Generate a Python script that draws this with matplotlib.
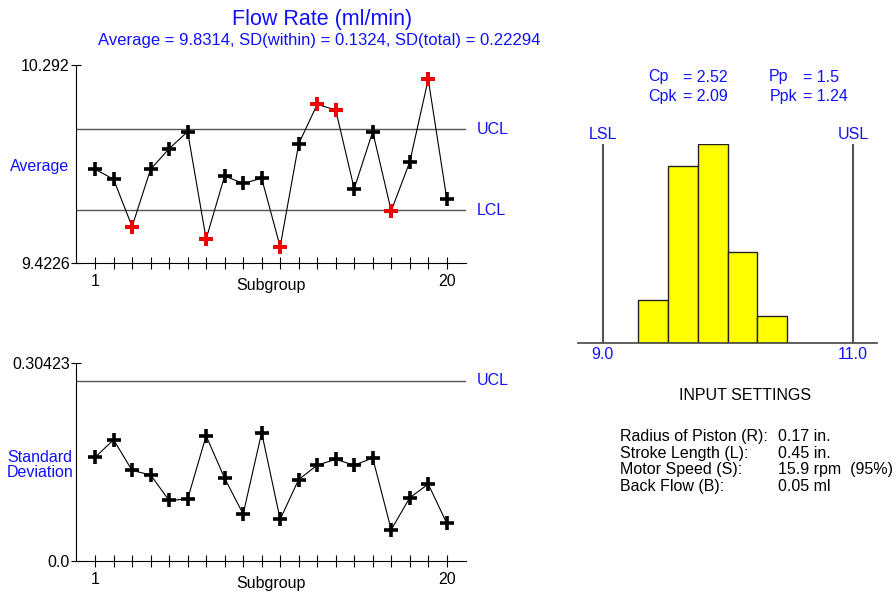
import numpy as np
import matplotlib
matplotlib.use('Agg')
import matplotlib.pyplot as plt
from matplotlib import font_manager

# chart values
subgroups = np.arange(1, 21)
averages = [9.833, 9.789, 9.581, 9.833, 9.923, 9.998, 9.527, 9.803, 9.771, 9.793,
            9.493, 9.944, 10.118, 10.093, 9.748, 9.998, 9.650, 9.865, 10.228, 9.704]
std_devs = [0.159, 0.186, 0.139, 0.132, 0.093, 0.095, 0.192, 0.127, 0.072, 0.197,
            0.064, 0.125, 0.147, 0.156, 0.147, 0.158, 0.048, 0.097, 0.118, 0.058]
grand_avg = 9.8314
sd_within = 0.1324
sd_total = 0.22294
n_per_group = 5
avg_ucl = grand_avg + 3 * sd_within / np.sqrt(n_per_group)
avg_lcl = grand_avg - 3 * sd_within / np.sqrt(n_per_group)
avg_range = (9.4226, 10.292)
sd_ucl = 0.27657
sd_range = (0.0, 0.30423)

hist_edges = [9.285, 9.523, 9.761, 9.999, 10.237, 10.475]
hist_counts = [8, 33, 37, 17, 5]
lsl, usl = 9.0, 11.0
cp, cpk, pp, ppk = '2.52', '2.09', '1.5', '1.24'

settings_names = ['Radius of Piston (R):', 'Stroke Length (L):', 'Motor Speed (S):', 'Back Flow (B):']
settings_values = ['0.17 in.', '0.45 in.', '15.9 rpm  (95%)', '0.05 ml']

W, H = 896, 592
BLUE = '#1010ff'

plt.rcParams['font.family'] = ['Liberation Sans', 'DejaVu Sans']
installed = {f.name for f in font_manager.fontManager.ttflist}
if 'Liberation Sans Narrow' in installed:
    LABEL_FONT = ['Liberation Sans Narrow', 'Liberation Sans']
    FS = 13
    FS_SET = 13.5
else:
    LABEL_FONT = ['Liberation Sans', 'DejaVu Sans']
    FS = 11.5
    FS_SET = 11.5


def fx(px):
    return px / W


def fy(py):
    return 1 - py / H


def label(x, y, s, **kw):
    kw.setdefault('fontsize', FS)
    kw.setdefault('family', LABEL_FONT)
    fig.text(fx(x), fy(y), s, **kw)


def control_chart(ax, values, ylim, limits, ylabels):
    ax.set_xlim(-0.03, 21.04)
    ax.set_ylim(*ylim)
    for name, val in limits:
        ax.axhline(val, color='#555555', lw=1.0, zorder=1)
        ax.text(21.6, val, name, color=BLUE, fontsize=FS, family=LABEL_FONT,
                va='center', ha='left')
    ax.plot(subgroups, values, color='black', lw=0.8, marker='+', ms=10, mew=2.6, zorder=3)
    out = [(s, v) for s, v in zip(subgroups, values)
           if any((nm == 'UCL' and v > lv) or (nm == 'LCL' and v < lv) for nm, lv in limits)]
    if out:
        xs, ys = zip(*out)
        ax.plot(xs, ys, ls='none', marker='+', ms=10, mew=2.6, color='red', zorder=4)
    for side in ['top', 'right']:
        ax.spines[side].set_visible(False)
    ax.set_xticks(subgroups)
    ax.set_xticklabels(['1'] + [''] * 18 + ['20'], fontsize=FS, family=LABEL_FONT)
    ax.tick_params(axis='x', direction='inout', length=8, width=0.8, pad=4)
    ax.set_yticks(list(ylim))
    ax.set_yticklabels(ylabels, fontsize=FS, family=LABEL_FONT)
    ax.tick_params(axis='y', direction='inout', length=7, width=0.8, pad=1)
    ax.text(10.5, -0.115, 'Subgroup', transform=ax.get_xaxis_transform(),
            ha='center', va='center', fontsize=FS, family=LABEL_FONT)


fig = plt.figure(figsize=(W / 100, H / 100), dpi=100)

# x-bar chart
ax1 = fig.add_axes([fx(76), fy(262.7), fx(466 - 76), (262.7 - 64.7) / H])
control_chart(ax1, averages, avg_range, [('UCL', avg_ucl), ('LCL', avg_lcl)],
              ['9.4226', '10.292'])
label(40, 167, 'Average', color=BLUE, ha='center', va='center')

# standard deviation chart
ax2 = fig.add_axes([fx(76), fy(561), fx(466 - 76), (561 - 362.7) / H])
control_chart(ax2, std_devs, sd_range, [('UCL', sd_ucl)], ['0.0', '0.30423'])
label(40, 465, 'Standard\nDeviation', color=BLUE, ha='center', va='center', linespacing=1.0)

# titles
fig.text(fx(322), fy(19), 'Flow Rate (ml/min)', color=BLUE, fontsize=15.5,
         ha='center', va='center')
fig.text(fx(319), fy(40),
         f'Average = {grand_avg}, SD(within) = {sd_within}, SD(total) = {sd_total}',
         color=BLUE, fontsize=12, ha='center', va='center')

# histogram
ax3 = fig.add_axes([fx(578), fy(342.7), fx(876.7 - 578), (342.7 - 144.3) / H])
ax3.set_xlim(8.803, 11.19)
ax3.set_ylim(0, max(hist_counts))
ax3.bar(hist_edges[:-1], hist_counts, width=np.diff(hist_edges), align='edge',
        color='#ffff00', edgecolor='#222222', lw=1.0, zorder=2)
ax3.vlines([lsl, usl], 0, max(hist_counts), color='#555555', lw=1.5, zorder=1)
for side in ['top', 'right', 'left']:
    ax3.spines[side].set_visible(False)
ax3.spines['bottom'].set_color('#444444')
ax3.spines['bottom'].set_linewidth(1.2)
ax3.set_yticks([])
ax3.set_xticks([lsl, usl])
ax3.set_xticklabels([f'{lsl:.1f}', f'{usl:.1f}'], color=BLUE, fontsize=FS, family=LABEL_FONT)
ax3.tick_params(axis='x', length=0, pad=3)
ax3.text(lsl, max(hist_counts) + 0.4, 'LSL', color=BLUE, fontsize=FS, family=LABEL_FONT,
         ha='center', va='bottom')
ax3.text(usl, max(hist_counts) + 0.4, 'USL', color=BLUE, fontsize=FS, family=LABEL_FONT,
         ha='center', va='bottom')

label(648, 77, 'Cp', color=BLUE, va='center')
label(648, 96.5, 'Cpk', color=BLUE, va='center')
label(683, 77, f'= {cp}', color=BLUE, va='center')
label(683, 96.5, f'= {cpk}', color=BLUE, va='center')
label(769, 77, 'Pp', color=BLUE, va='center')
label(770, 96.5, 'Ppk', color=BLUE, va='center')
label(803, 77, f'= {pp}', color=BLUE, va='center')
label(803, 96.5, f'= {ppk}', color=BLUE, va='center')

# input settings
label(745, 395, 'INPUT SETTINGS', fontsize=FS_SET, ha='center', va='center')
for i, (name, val) in enumerate(zip(settings_names, settings_values)):
    y = 436.7 + i * 16.6
    label(620, y, name, fontsize=FS_SET, va='center')
    label(778, y, val, fontsize=FS_SET, va='center')

fig.savefig('out.png', dpi=100)
